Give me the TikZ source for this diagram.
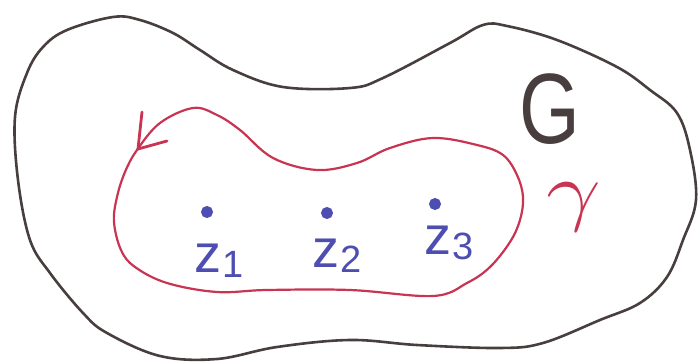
\documentclass[tikz,border=0pt]{standalone}
\usepackage{fix-cm}
\usepackage{fontspec}
\setmainfont{Liberation Sans}
\definecolor{pen}{RGB}{72,62,62}
\definecolor{redpen}{RGB}{200,52,82}
\definecolor{bluepen}{RGB}{78,78,178}
\tikzset{
  outline/.style={draw=pen,line width=2.6pt,line cap=round,line join=round},
  redloop/.style={draw=redpen,line width=2.2pt,line cap=round,line join=round},
  barb/.style={draw=redpen,line width=2.8pt,line cap=round},
  ptdot/.style={circle,fill=bluepen,draw=bluepen,line width=1pt,minimum size=11pt,inner sep=0pt},
  zlbl/.style={text=bluepen,inner sep=0pt,anchor=base west,font=\fontsize{54}{54}\selectfont},
}
\newcommand{\zsub}[1]{\kern1pt\raisebox{-5pt}{\fontsize{38}{38}\selectfont #1}}
\begin{document}
\begin{tikzpicture}[x=1pt,y=-1pt]
\useasboundingbox (0,0) rectangle (699,363);
% outer region G
\draw[outline] plot[smooth cycle,tension=0.6] coordinates {
(15,117) (27,73) (43,47) (67,30) (113,17) (140,20) (173,33) (200,50) (233,70)
(283,87) (350,88) (383,78) (450,43) (483,25) (507,26) (557,40) (617,67) (650,90)
(677,113) (690,150) (696,200) (683,240) (667,277) (640,303) (600,320) (543,343)
(500,348) (417,345) (350,340) (277,347) (217,359) (160,356) (107,333) (83,313)
(50,273) (30,240) (18,180)};
% curve gamma
\draw[redloop] plot[smooth cycle,tension=0.6] coordinates {
(137,150) (125,172) (117,197) (114,222) (121,250) (135,267) (167,283) (217,292)
(267,290) (350,290) (433,296) (467,283) (490,267) (510,242) (520,220) (523,197)
(517,175) (503,155) (477,145) (433,138) (390,148) (357,163) (317,170) (273,158)
(240,130) (217,115) (193,108) (160,123)};
\coordinate (v) at (138,149);
\coordinate (b1) at (142,112);
\coordinate (b2) at (167,141);
\draw[barb] (v) -- (b1);
\draw[barb] (v) -- (b2);
% labels
\node[text=pen,inner sep=0pt,font=\fontsize{100}{100}\selectfont] (G) at (550,109) {\scalebox{0.78}[1]{G}};
\node[text=redpen,inner sep=0pt,font=\fontsize{78}{78}\selectfont] (gam) at (574,207) {\scalebox{1.25}[1]{$\gamma$}};
% points
\node[ptdot] (p1) at (207,212) {};
\node[ptdot] (p2) at (327,213) {};
\node[ptdot] (p3) at (435,204) {};
\node[zlbl] (z1) at (194,273) {z\zsub{1}};
\node[zlbl] (z2) at (312,268) {z\zsub{2}};
\node[zlbl] (z3) at (424,255) {z\zsub{3}};
\end{tikzpicture}
\end{document}
